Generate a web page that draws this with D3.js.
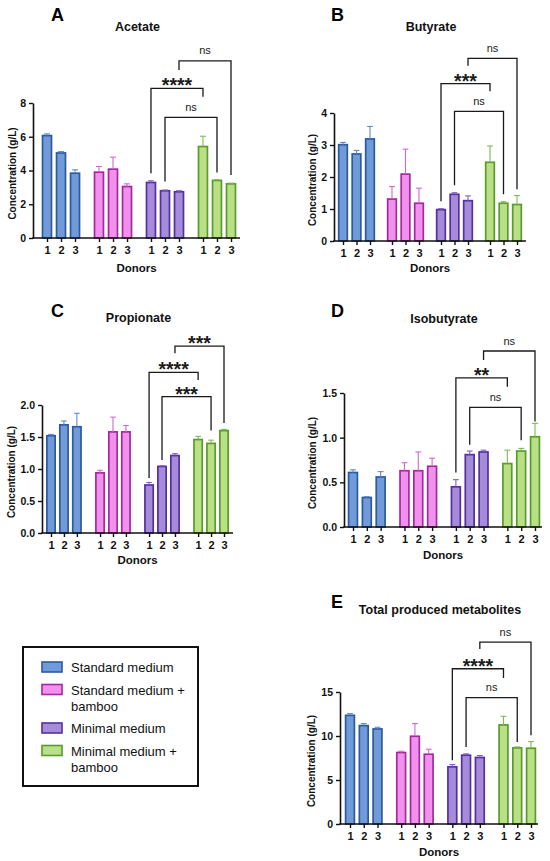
<!DOCTYPE html>
<html>
<head>
<meta charset="utf-8">
<script src="https://cdn.jsdelivr.net/npm/d3@7.9.0/dist/d3.min.js"></script>
<style>
  body { margin: 0; background: #fff; }
  svg { display: block; font-family: "Liberation Sans", Arial, sans-serif; }
</style>
</head>
<body>
<svg id="chart" width="550" height="861"></svg>
<script>
// groups and donors
const donors = ['1', '2', '3'];
const media = ['Standard medium', 'Standard medium + bamboo', 'Minimal medium', 'Minimal medium + bamboo'];
const fills = ['#709bd8', '#f290ee', '#a78bdb', '#b9e084'];
const strokes = ['#2c5a9e', '#a5299e', '#55309c', '#5b9a2e'];
const errColors = ['#5f8ccc', '#d466d0', '#7d60c2', '#80b94f'];

// means (g/L), 12 bars: 4 media x 3 donors
const acetateMean = [6.07, 5.04, 3.84, 3.90, 4.08, 3.05, 3.29, 2.80, 2.74, 5.42, 3.41, 3.21];
const acetateSD   = [0.10, 0.08, 0.20, 0.34, 0.71, 0.16, 0.10, 0.04, 0.06, 0.61, 0.04, 0.04];
const butyrateMean = [3.01, 2.72, 3.19, 1.31, 2.09, 1.18, 0.98, 1.46, 1.26, 2.46, 1.18, 1.14];
const butyrateSD   = [0.07, 0.11, 0.39, 0.39, 0.78, 0.47, 0.03, 0.05, 0.15, 0.51, 0.05, 0.28];
const propionateMean = [1.52, 1.69, 1.66, 0.94, 1.58, 1.58, 0.75, 1.04, 1.21, 1.46, 1.40, 1.60];
const propionateSD   = [0.02, 0.06, 0.21, 0.04, 0.23, 0.10, 0.04, 0.01, 0.03, 0.05, 0.05, 0.02];
const isobutyrateMean = [0.61, 0.33, 0.56, 0.63, 0.63, 0.68, 0.45, 0.81, 0.84, 0.71, 0.85, 1.01];
const isobutyrateSD   = [0.03, 0.01, 0.06, 0.09, 0.21, 0.09, 0.08, 0.04, 0.02, 0.15, 0.03, 0.15];
const totalMean = [12.35, 11.18, 10.80, 8.12, 9.97, 7.93, 6.50, 7.82, 7.56, 11.26, 8.65, 8.61];
const totalSD   = [0.19, 0.23, 0.19, 0.15, 1.44, 0.57, 0.26, 0.15, 0.22, 0.98, 0.11, 0.76];

// significance brackets: bar indices, label, bar level, left/right leg ends (data units)
const acetateSig = [
  { from: 8, to: 11, label: 'ns', level: 10.5, left: 9.95, right: 3.74 },
  { from: 6, to: 9, label: '****', level: 8.87, left: 3.84, right: 8.37 },
  { from: 7, to: 10, label: 'ns', level: 7.15, left: 3.35, right: 3.88 }
];
const butyrateSig = [
  { from: 8, to: 11, label: 'ns', level: 5.71, left: 5.48, right: 1.62 },
  { from: 6, to: 9, label: '***', level: 4.92, left: 1.24, right: 4.68 },
  { from: 7, to: 10, label: 'ns', level: 4.05, left: 1.74, right: 1.46 }
];
const propionateSig = [
  { from: 8, to: 11, label: '***', level: 2.92, left: 2.81, right: 1.72 },
  { from: 6, to: 9, label: '****', level: 2.51, left: 0.86, right: 2.39 },
  { from: 7, to: 10, label: '***', level: 2.13, left: 1.14, right: 1.60 }
];
const isobutyrateSig = [
  { from: 8, to: 11, label: 'ns', level: 1.97, left: 1.87, right: 1.18 },
  { from: 6, to: 9, label: '**', level: 1.67, left: 0.61, right: 1.57 },
  { from: 7, to: 10, label: 'ns', level: 1.34, left: 0.92, right: 0.97 }
];
const totalSig = [
  { from: 8, to: 11, label: 'ns', level: 20.67, left: 19.9, right: 10.09 },
  { from: 6, to: 9, label: '****', level: 17.64, left: 7.25, right: 16.58 },
  { from: 7, to: 10, label: 'ns', level: 14.36, left: 8.76, right: 9.33 }
];

const acetateTicks = [0, 2, 4, 6, 8];
const butyrateTicks = [0, 1, 2, 3, 4];
const propionateTicks = [0, 0.5, 1, 1.5, 2];
const isobutyrateTicks = [0, 0.5, 1, 1.5];
const totalTicks = [0, 5, 10, 15];

const panels = [
  { letter: 'A', title: 'Acetate', mean: acetateMean, sd: acetateSD, sig: acetateSig, ticks: acetateTicks, fmt: d3.format('d'),
    axisX: 33, xEnd: 240, first: 47, last: 231, gap: 0.71, y0: 238, yTop: 103,
    letterX: 51, letterY: 21, titleY: 31, donorsY: 272, labelX: 12 },
  { letter: 'B', title: 'Butyrate', mean: butyrateMean, sd: butyrateSD, sig: butyrateSig, ticks: butyrateTicks, fmt: d3.format('d'),
    axisX: 334, xEnd: 526, first: 343, last: 517, gap: 0.63, y0: 241, yTop: 113,
    letterX: 331, letterY: 21, titleY: 31, donorsY: 272, labelX: 312 },
  { letter: 'C', title: 'Propionate', mean: propionateMean, sd: propionateSD, sig: propionateSig, ticks: propionateTicks, fmt: d3.format('.1f'),
    axisX: 42, xEnd: 233, first: 51, last: 224, gap: 0.79, y0: 533, yTop: 405,
    letterX: 51, letterY: 317, titleY: 322, donorsY: 564, labelX: 11 },
  { letter: 'D', title: 'Isobutyrate', mean: isobutyrateMean, sd: isobutyrateSD, sig: isobutyrateSig, ticks: isobutyrateTicks, fmt: d3.format('.1f'),
    axisX: 344, xEnd: 542, first: 353, last: 535, gap: 0.72, y0: 527, yTop: 393,
    letterX: 331, letterY: 317, titleY: 323, donorsY: 559, labelX: 312 },
  { letter: 'E', title: 'Total produced metabolites', mean: totalMean, sd: totalSD, sig: totalSig, ticks: totalTicks, fmt: d3.format('d'),
    axisX: 340, xEnd: 538, first: 350, last: 531, gap: 0.72, y0: 824, yTop: 692,
    letterX: 331, letterY: 608, titleY: 614, donorsY: 856, labelX: 311 }
];

const svg = d3.select('#chart');

function drawPanel(p) {
  const g = svg.append('g');
  const span = 11 + 3 * p.gap;
  const x = d3.scaleLinear().domain([0, span]).range([p.first, p.last]);
  const posOf = (i) => i + Math.floor(i / 3) * p.gap;
  const cx = (i) => x(posOf(i));
  const y = d3.scaleLinear().domain([0, d3.max(p.ticks)]).range([p.y0, p.yTop]);
  const step = (p.last - p.first) / span;
  const bw = step * 0.64;
  const mid = (p.axisX + p.xEnd) / 2;

  // bars
  g.selectAll('rect.bar')
    .data(p.mean)
    .join('rect')
    .attr('class', 'bar')
    .attr('x', (d, i) => cx(i) - bw / 2)
    .attr('y', (d) => y(d))
    .attr('width', bw)
    .attr('height', (d) => y(0) - y(d))
    .attr('fill', (d, i) => fills[Math.floor(i / 3)])
    .attr('stroke', (d, i) => strokes[Math.floor(i / 3)])
    .attr('stroke-width', 1.7);

  // error bars (upper only)
  p.mean.forEach((m, i) => {
    const top = y(m + p.sd[i]);
    const c = errColors[Math.floor(i / 3)];
    g.append('line')
      .attr('x1', cx(i)).attr('x2', cx(i))
      .attr('y1', y(m)).attr('y2', top)
      .attr('stroke', c).attr('stroke-width', 1.1);
    g.append('line')
      .attr('x1', cx(i) - bw * 0.33).attr('x2', cx(i) + bw * 0.33)
      .attr('y1', top).attr('y2', top)
      .attr('stroke', c).attr('stroke-width', 1.1);
  });

  // y axis
  const yAxis = g.append('g')
    .attr('transform', `translate(${p.axisX},0)`)
    .call(d3.axisLeft(y).tickValues(p.ticks).tickFormat(p.fmt).tickSize(4).tickSizeOuter(0).tickPadding(3));
  yAxis.select('.domain').attr('stroke', '#111').attr('stroke-width', 1.6);
  yAxis.selectAll('.tick line').attr('stroke', '#111').attr('stroke-width', 1.4);
  yAxis.selectAll('text').attr('font-size', 10.5).attr('font-weight', 'bold').attr('fill', '#111')
    .attr('font-family', '"Liberation Sans", Arial, sans-serif');

  // x axis
  const xAxis = g.append('g')
    .attr('transform', `translate(0,${p.y0})`)
    .call(d3.axisBottom(x)
      .tickValues(d3.range(12).map(posOf))
      .tickFormat((d, i) => donors[i % 3])
      .tickSize(4).tickSizeOuter(0).tickPadding(4));
  xAxis.select('.domain').remove();
  xAxis.selectAll('.tick line').attr('stroke', '#111').attr('stroke-width', 1.4);
  xAxis.selectAll('text').attr('font-size', 11).attr('font-weight', 'bold').attr('fill', '#111')
    .attr('font-family', '"Liberation Sans", Arial, sans-serif');
  g.append('line')
    .attr('x1', p.axisX - 0.8).attr('x2', p.xEnd)
    .attr('y1', p.y0).attr('y2', p.y0)
    .attr('stroke', '#111').attr('stroke-width', 1.6);

  // significance brackets
  p.sig.forEach((s) => {
    const xl = cx(s.from), xr = cx(s.to), yl = y(s.level);
    g.append('path')
      .attr('d', `M${xl},${y(s.left)}V${yl}H${xr}V${y(s.right)}`)
      .attr('fill', 'none').attr('stroke', '#1a1a1a').attr('stroke-width', 1.3);
    const isNs = s.label === 'ns';
    g.append('text')
      .attr('x', (xl + xr) / 2)
      .attr('y', isNs ? yl - 6.5 : yl + 4)
      .attr('text-anchor', 'middle')
      .attr('font-size', isNs ? 11 : 19.5)
      .attr('font-weight', isNs ? 'normal' : 'bold')
      .attr('fill', '#1a1a1a')
      .text(s.label);
  });

  // labels
  g.append('text')
    .attr('x', p.letterX).attr('y', p.letterY)
    .attr('font-size', 18).attr('font-weight', 'bold').attr('fill', '#000')
    .text(p.letter);
  g.append('text')
    .attr('x', mid + 1).attr('y', p.titleY)
    .attr('text-anchor', 'middle')
    .attr('font-size', 12.5).attr('font-weight', 'bold').attr('fill', '#111')
    .text(p.title);
  g.append('text')
    .attr('x', mid).attr('y', p.donorsY)
    .attr('text-anchor', 'middle')
    .attr('font-size', 11.5).attr('font-weight', 'bold').attr('fill', '#111')
    .text('Donors');
  g.append('text')
    .attr('transform', `translate(${p.labelX},${(p.y0 + p.yTop) / 2 + 3}) rotate(-90)`)
    .attr('text-anchor', 'middle')
    .attr('dy', '0.35em')
    .attr('font-size', 10).attr('font-weight', 'bold').attr('fill', '#111')
    .text('Concentration (g/L)');
}

panels.forEach(drawPanel);

// legend
const legend = svg.append('g');
legend.append('rect')
  .attr('x', 23).attr('y', 647).attr('width', 175).attr('height', 139)
  .attr('fill', '#fff').attr('stroke', '#111').attr('stroke-width', 2);

let baseline = 672;
media.forEach((m, idx) => {
  const lines = m.includes(' + ') ? [m.split(' + ')[0] + ' +', m.split(' + ')[1]] : [m];
  legend.append('rect')
    .attr('x', 42).attr('y', baseline - 10)
    .attr('width', 20).attr('height', 10)
    .attr('fill', fills[idx]).attr('stroke', strokes[idx]).attr('stroke-width', 1.6);
  const t = legend.append('text')
    .attr('x', 71).attr('y', baseline)
    .attr('font-size', 13).attr('fill', '#111');
  lines.forEach((l, k) => {
    t.append('tspan').attr('x', 71).attr('dy', k === 0 ? 0 : 16).text(l);
  });
  baseline += 22.5 + (lines.length - 1) * 16;
});
</script>
</body>
</html>
